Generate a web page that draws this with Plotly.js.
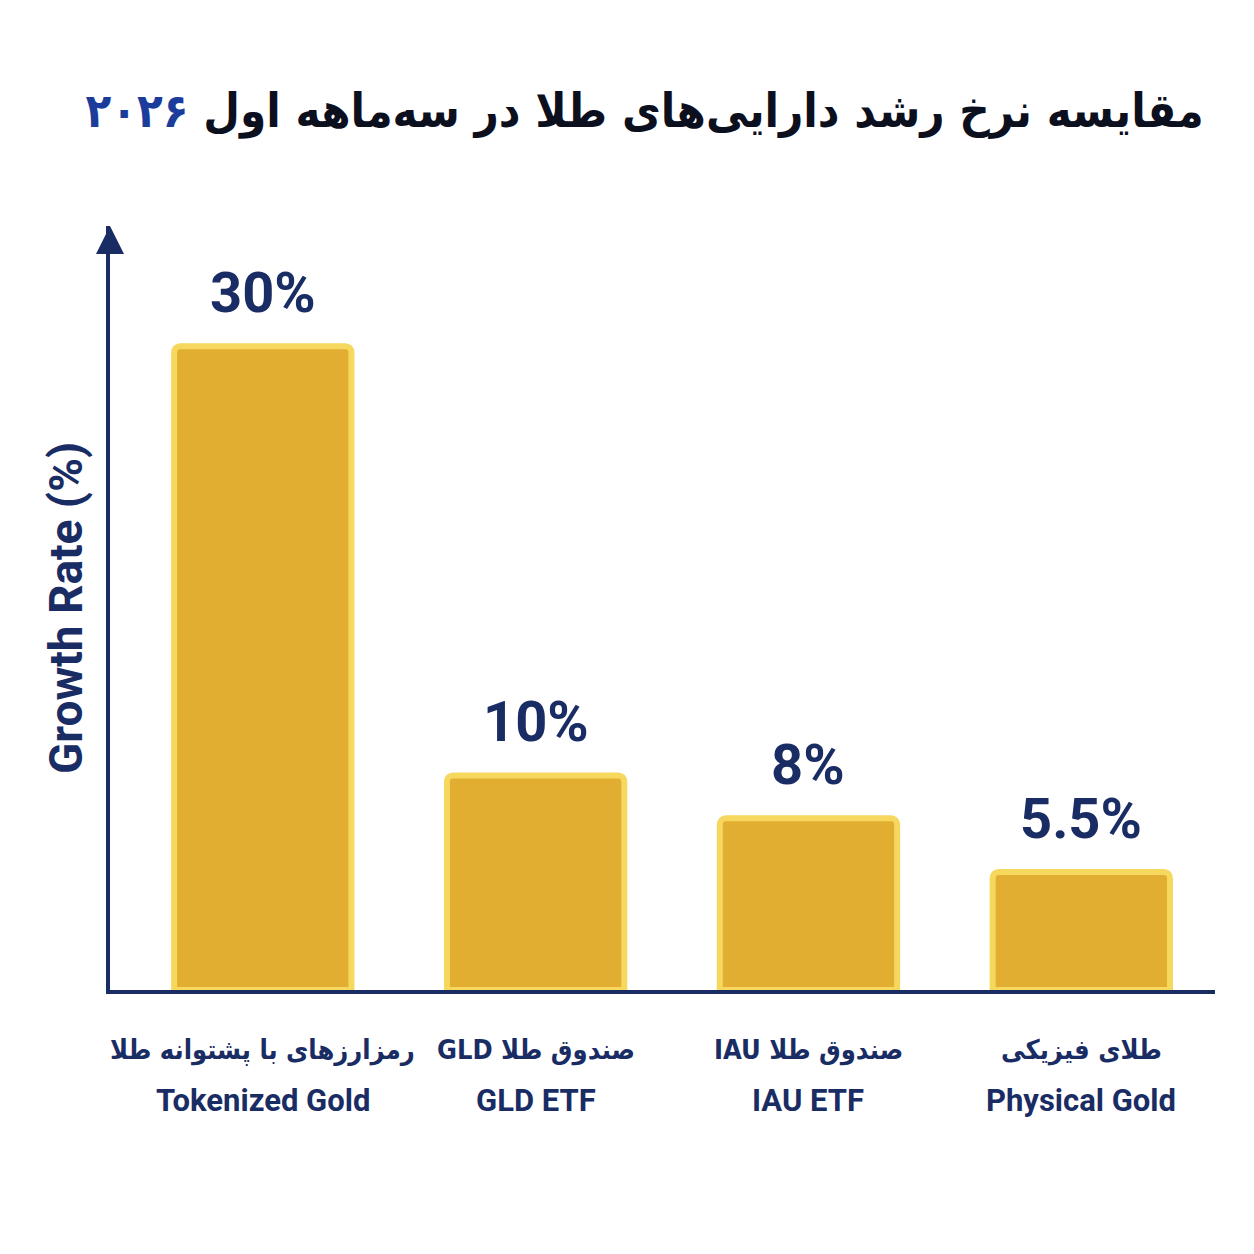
<!DOCTYPE html>
<html>
<head>
<meta charset="utf-8">
<script src="https://cdn.plot.ly/plotly-3.0.1.min.js"></script>
<style>
  html, body { margin: 0; padding: 0; background: #ffffff; }
  #chart { width: 1254px; height: 1254px; }
</style>
</head>
<body>
<div id="chart"></div>
<script>
// categories and values
var categories = ['Tokenized Gold', 'GLD ETF', 'IAU ETF', 'Physical Gold'];
var persianLabels = ['رمزارزهای با پشتوانه طلا', 'صندوق طلا GLD', 'صندوق طلا IAU', 'طلای فیزیکی'];
var growthRates = [30, 10, 8, 5.5];
var valueLabels = ['30%', '10%', '8%', '5.5%'];

var navy = '#1a2c64';
var fontEn = 'Roboto, "DejaVu Sans", sans-serif';
var fontFa = '"DejaVu Sans Condensed", "DejaVu Sans", sans-serif';

// wrap text in a right-to-left embedding so mixed Latin words sit on the left
function rtl(s) { return '\u202B' + s + '\u202C'; }

var bars = {
  x: categories,
  y: growthRates,
  type: 'bar',
  width: 0.65,
  marker: {
    color: '#E1AE31',
    line: { color: '#F6D85E', width: 6 }
  },
  hoverinfo: 'skip'
};

var annotations = [];

categories.forEach(function (c, i) {
  // value label above each bar
  annotations.push({
    x: c, y: growthRates[i], xref: 'x', yref: 'y',
    text: valueLabels[i], showarrow: false,
    yanchor: 'bottom', yshift: 18,
    font: { family: fontEn, size: 56, color: navy, weight: 'bold' }
  });
  // Persian category label
  annotations.push({
    x: c, y: 0, xref: 'x', yref: 'paper',
    text: '<b>' + rtl(persianLabels[i]) + '</b>', showarrow: false,
    yanchor: 'middle', yshift: -60,
    font: { family: fontFa, size: 27, color: navy }
  });
  // English category label
  annotations.push({
    x: c, y: 0, xref: 'x', yref: 'paper',
    text: '<b>' + c + '</b>', showarrow: false,
    yanchor: 'middle', yshift: -110,
    font: { family: fontEn, size: 31, color: navy }
  });
});

// arrow head on the y axis
annotations.push({
  x: 0, y: 1, xref: 'paper', yref: 'paper',
  ax: 0, ay: 28, text: '', showarrow: true,
  arrowhead: 2, arrowsize: 1.4, arrowwidth: 4, arrowcolor: navy
});

var layout = {
  width: 1254,
  height: 1254,
  paper_bgcolor: '#ffffff',
  plot_bgcolor: '#ffffff',
  margin: { l: 110, r: 39, t: 226, b: 264 },
  showlegend: false,
  barcornerradius: 6,
  title: {
    text: '<b>مقایسه نرخ رشد دارایی‌های طلا در سه‌ماهه اول <span style="color:#1c3c9c">۲۰۲۶</span></b>',
    x: 0.514, xref: 'container', xanchor: 'center',
    y: 0.912, yref: 'container', yanchor: 'middle',
    font: { family: fontFa, size: 47, color: '#0b0f1e' }
  },
  xaxis: {
    type: 'category',
    range: [-0.56, 3.49],
    showticklabels: false,
    showline: true, linecolor: navy, linewidth: 4,
    showgrid: false, zeroline: false, ticks: ''
  },
  yaxis: {
    range: [0, 35.6],
    showticklabels: false,
    showline: true, linecolor: navy, linewidth: 4,
    showgrid: false, zeroline: false, ticks: '',
    title: {
      text: '<b>Growth Rate (%)</b>',
      standoff: 10,
      font: { family: fontEn, size: 46, color: navy }
    }
  },
  annotations: annotations
};

Plotly.newPlot('chart', [bars], layout, { staticPlot: true });
</script>
</body>
</html>
